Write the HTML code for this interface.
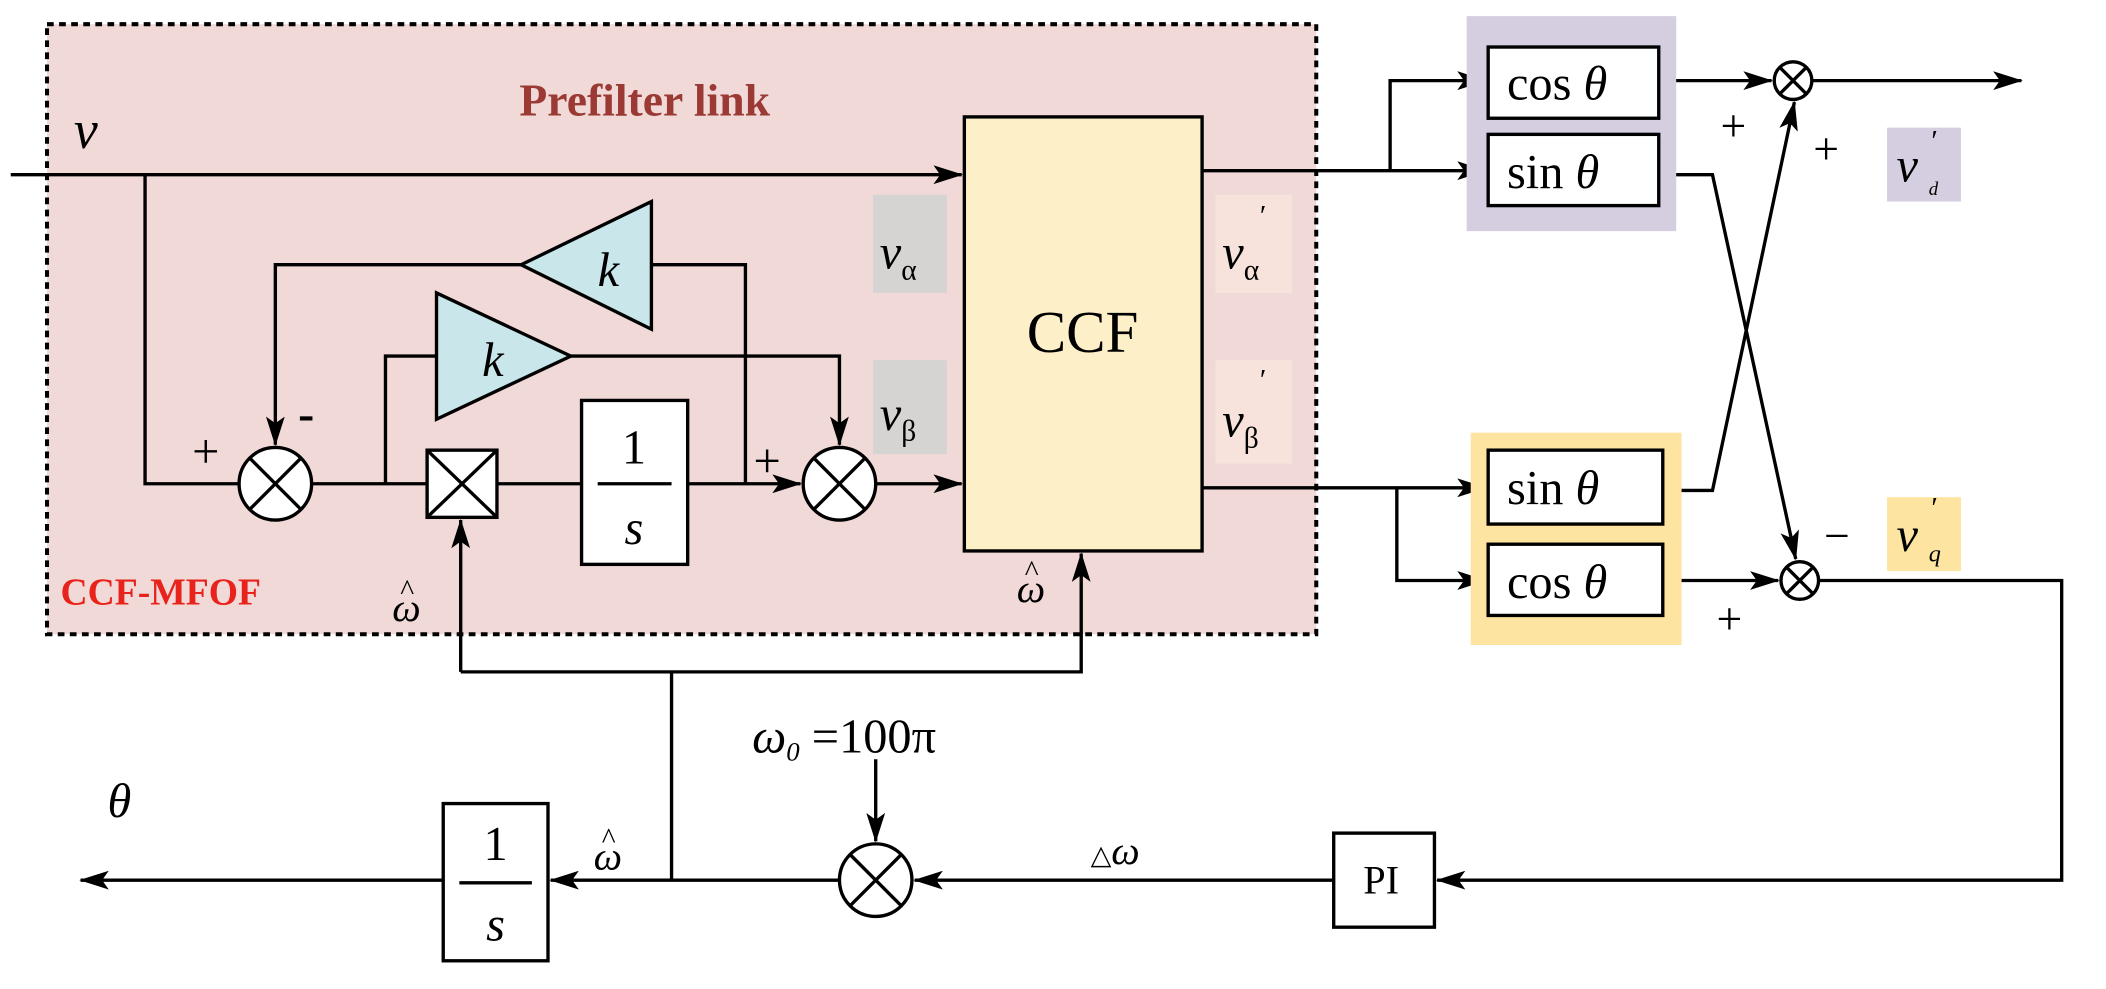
<!DOCTYPE html>
<html><head><meta charset="utf-8"><style>html,body{margin:0;padding:0;background:#fff}svg{display:block}</style></head>
<body>
<svg width="2106" height="989" viewBox="0 0 1568 736" preserveAspectRatio="none" xmlns="http://www.w3.org/2000/svg" font-family="Liberation Serif, serif">
<defs><marker id="b" markerWidth="22" markerHeight="14" refX="21" refY="7" orient="auto" markerUnits="userSpaceOnUse"><path d="M0,0 L22,7 L0,14 L5,7 Z" fill="#000"/></marker></defs>
<rect x="35" y="18" width="945" height="454" fill="#f0d9d7" stroke="#000" stroke-width="3" stroke-dasharray="5,4"/>
<text x="480" y="86" font-size="34" font-weight="bold" fill="#9b3a34" text-anchor="middle">Prefilter link</text>
<text x="45" y="450" font-size="28" font-weight="bold" fill="#e8231c">CCF-MFOF</text>
<text x="55" y="110" font-size="40" font-style="italic">v</text>
<g stroke="#000" stroke-width="2.5" fill="none">
<path d="M8,130 H716" marker-end="url(#b)"/>
<path d="M108,130 V360 H178"/>
<path d="M232,360 H318"/>
<path d="M287,360 V265 H325"/>
<path d="M425,265 H625 V331" marker-end="url(#b)"/>
<path d="M388,197 H205 V331" marker-end="url(#b)"/>
<path d="M485,197 H555 V360"/>
<path d="M370,360 H433"/>
<path d="M512,360 H596" marker-end="url(#b)"/>
<path d="M652,360 H716" marker-end="url(#b)"/>
<path d="M343,500 V387" marker-end="url(#b)"/>
<path d="M343,500 H805 V412" marker-end="url(#b)"/>
<path d="M500,500 V655"/>
<path d="M895,127 H1106" marker-end="url(#b)"/>
<path d="M1035,127 V60 H1106" marker-end="url(#b)"/>
<path d="M1235,60 H1319" marker-end="url(#b)"/>
<path d="M1349,60 H1505" marker-end="url(#b)"/>
<path d="M1235,130 H1275 L1337,416" marker-end="url(#b)"/>
<path d="M895,363 H1106" marker-end="url(#b)"/>
<path d="M1040,363 V432 H1106" marker-end="url(#b)"/>
<path d="M1238,365 H1275 L1336,76" marker-end="url(#b)"/>
<path d="M1238,432 H1324" marker-end="url(#b)"/>
<path d="M1354,432 H1535 V655 H1070" marker-end="url(#b)"/>
<path d="M993,655 H681" marker-end="url(#b)"/>
<path d="M652,565 V626" marker-end="url(#b)"/>
<path d="M625,655 H410" marker-end="url(#b)"/>
<path d="M330,655 H60" marker-end="url(#b)"/>
</g>
<rect x="650" y="145" width="55" height="73" fill="#d6d3d3"/>
<rect x="650" y="268" width="55" height="70" fill="#d6d3d3"/>
<rect x="905" y="145" width="57" height="73" fill="#f8e3dc"/>
<rect x="905" y="268" width="57" height="77" fill="#f8e3dc"/>
<rect x="1092" y="12" width="156" height="160" fill="#d5cde0"/>
<rect x="1095" y="322" width="157" height="158" fill="#fde4a0"/>
<rect x="1405" y="95" width="55" height="55" fill="#d5cde0"/>
<rect x="1405" y="370" width="55" height="55" fill="#fde4a0"/>
<g stroke="#000" stroke-width="2.5">
<rect x="718" y="87" width="177" height="323" fill="#fdf0c8"/>
<polygon points="325,218 325,312 425,265" fill="#c9e6ea"/>
<polygon points="485,150 485,245 388,197" fill="#c9e6ea"/>
<rect x="433" y="298" width="79" height="122" fill="#fff"/>
<rect x="318" y="335" width="52" height="50" fill="#fff"/>
<path d="M318,335 L370,385 M370,335 L318,385" fill="none"/>
<rect x="1108" y="35" width="127" height="53" fill="#fff"/>
<rect x="1108" y="100" width="127" height="53" fill="#fff"/>
<rect x="1108" y="335" width="130" height="55" fill="#fff"/>
<rect x="1108" y="405" width="130" height="53" fill="#fff"/>
<rect x="993" y="620" width="75" height="70" fill="#fff"/>
<rect x="330" y="598" width="78" height="117" fill="#fff"/>
<g fill="#fff"><circle cx="205" cy="360" r="27"/><circle cx="625" cy="360" r="27"/><circle cx="652" cy="655" r="27"/><circle cx="1335" cy="60" r="14"/><circle cx="1340" cy="432" r="14"/></g>
<path d="M186,341 L224,379 M224,341 L186,379 M606,341 L644,379 M644,341 L606,379 M633,636 L671,674 M671,636 L633,674 M1325,50 L1345,70 M1345,50 L1325,70 M1330,422 L1350,442 M1350,422 L1330,442" fill="none"/>
<path d="M445,360 H500 M342,657 H396" fill="none"/>
</g>
<g font-size="36">
<text x="806" y="262" font-size="44" text-anchor="middle">CCF</text>
<text x="367" y="280" font-style="italic" text-anchor="middle">k</text>
<text x="453" y="213" font-style="italic" text-anchor="middle">k</text>
<text x="472" y="345" text-anchor="middle">1</text><text x="472" y="405" font-style="italic" text-anchor="middle">s</text>
<text x="369" y="640" text-anchor="middle">1</text><text x="369" y="700" font-style="italic" text-anchor="middle">s</text>
<text x="1015" y="665" font-size="30">PI</text>
<text x="1122" y="74">cos <tspan font-style="italic">θ</tspan></text>
<text x="1122" y="140">sin <tspan font-style="italic">θ</tspan></text>
<text x="1122" y="375">sin <tspan font-style="italic">θ</tspan></text>
<text x="1122" y="445">cos <tspan font-style="italic">θ</tspan></text>
<text x="655" y="200" font-style="italic">v<tspan font-size="22" font-style="normal" dy="8">α</tspan></text>
<text x="655" y="320" font-style="italic">v<tspan font-size="22" font-style="normal" dy="8">β</tspan></text>
<text x="910" y="200" font-style="italic">v<tspan font-size="22" font-style="normal" dy="8">α</tspan></text>
<text x="938" y="168" font-size="22">′</text>
<text x="910" y="325" font-style="italic">v<tspan font-size="22" font-style="normal" dy="8">β</tspan></text>
<text x="938" y="290" font-size="22">′</text>
<text x="1412" y="135" font-style="italic">v</text><text x="1438" y="112" font-size="22">′</text><text x="1436" y="145" font-size="14" font-style="italic">d</text>
<text x="1412" y="410" font-style="italic">v</text><text x="1438" y="385" font-size="22">′</text><text x="1436" y="418" font-size="18" font-style="italic">q</text>
<text x="143" y="348" font-size="36">+</text>
<text x="222" y="320" font-size="36" font-weight="bold">-</text>
<text x="561" y="355" font-size="36">+</text>
<text x="1281" y="105" font-size="34">+</text>
<text x="1350" y="122" font-size="34">+</text>
<text x="1278" y="472" font-size="34">+</text>
<text x="1358" y="410" font-size="34">−</text>
<text x="292" y="462" font-size="30" font-style="italic">ω</text><text x="298" y="446" font-size="22">^</text>
<text x="757" y="448" font-size="30" font-style="italic">ω</text><text x="763" y="432" font-size="22">^</text>
<text x="442" y="647" font-size="30" font-style="italic">ω</text><text x="448" y="631" font-size="22">^</text>
<text x="80" y="608" font-style="italic">θ</text>
<text x="812" y="643" font-size="30"><tspan font-size="20">△</tspan><tspan font-style="italic">ω</tspan></text>
<text x="560" y="560"><tspan font-style="italic">ω</tspan><tspan font-size="20" font-style="italic" dy="6">0</tspan><tspan dy="-6"> =100π</tspan></text>
</g>
</svg>
</body></html>
